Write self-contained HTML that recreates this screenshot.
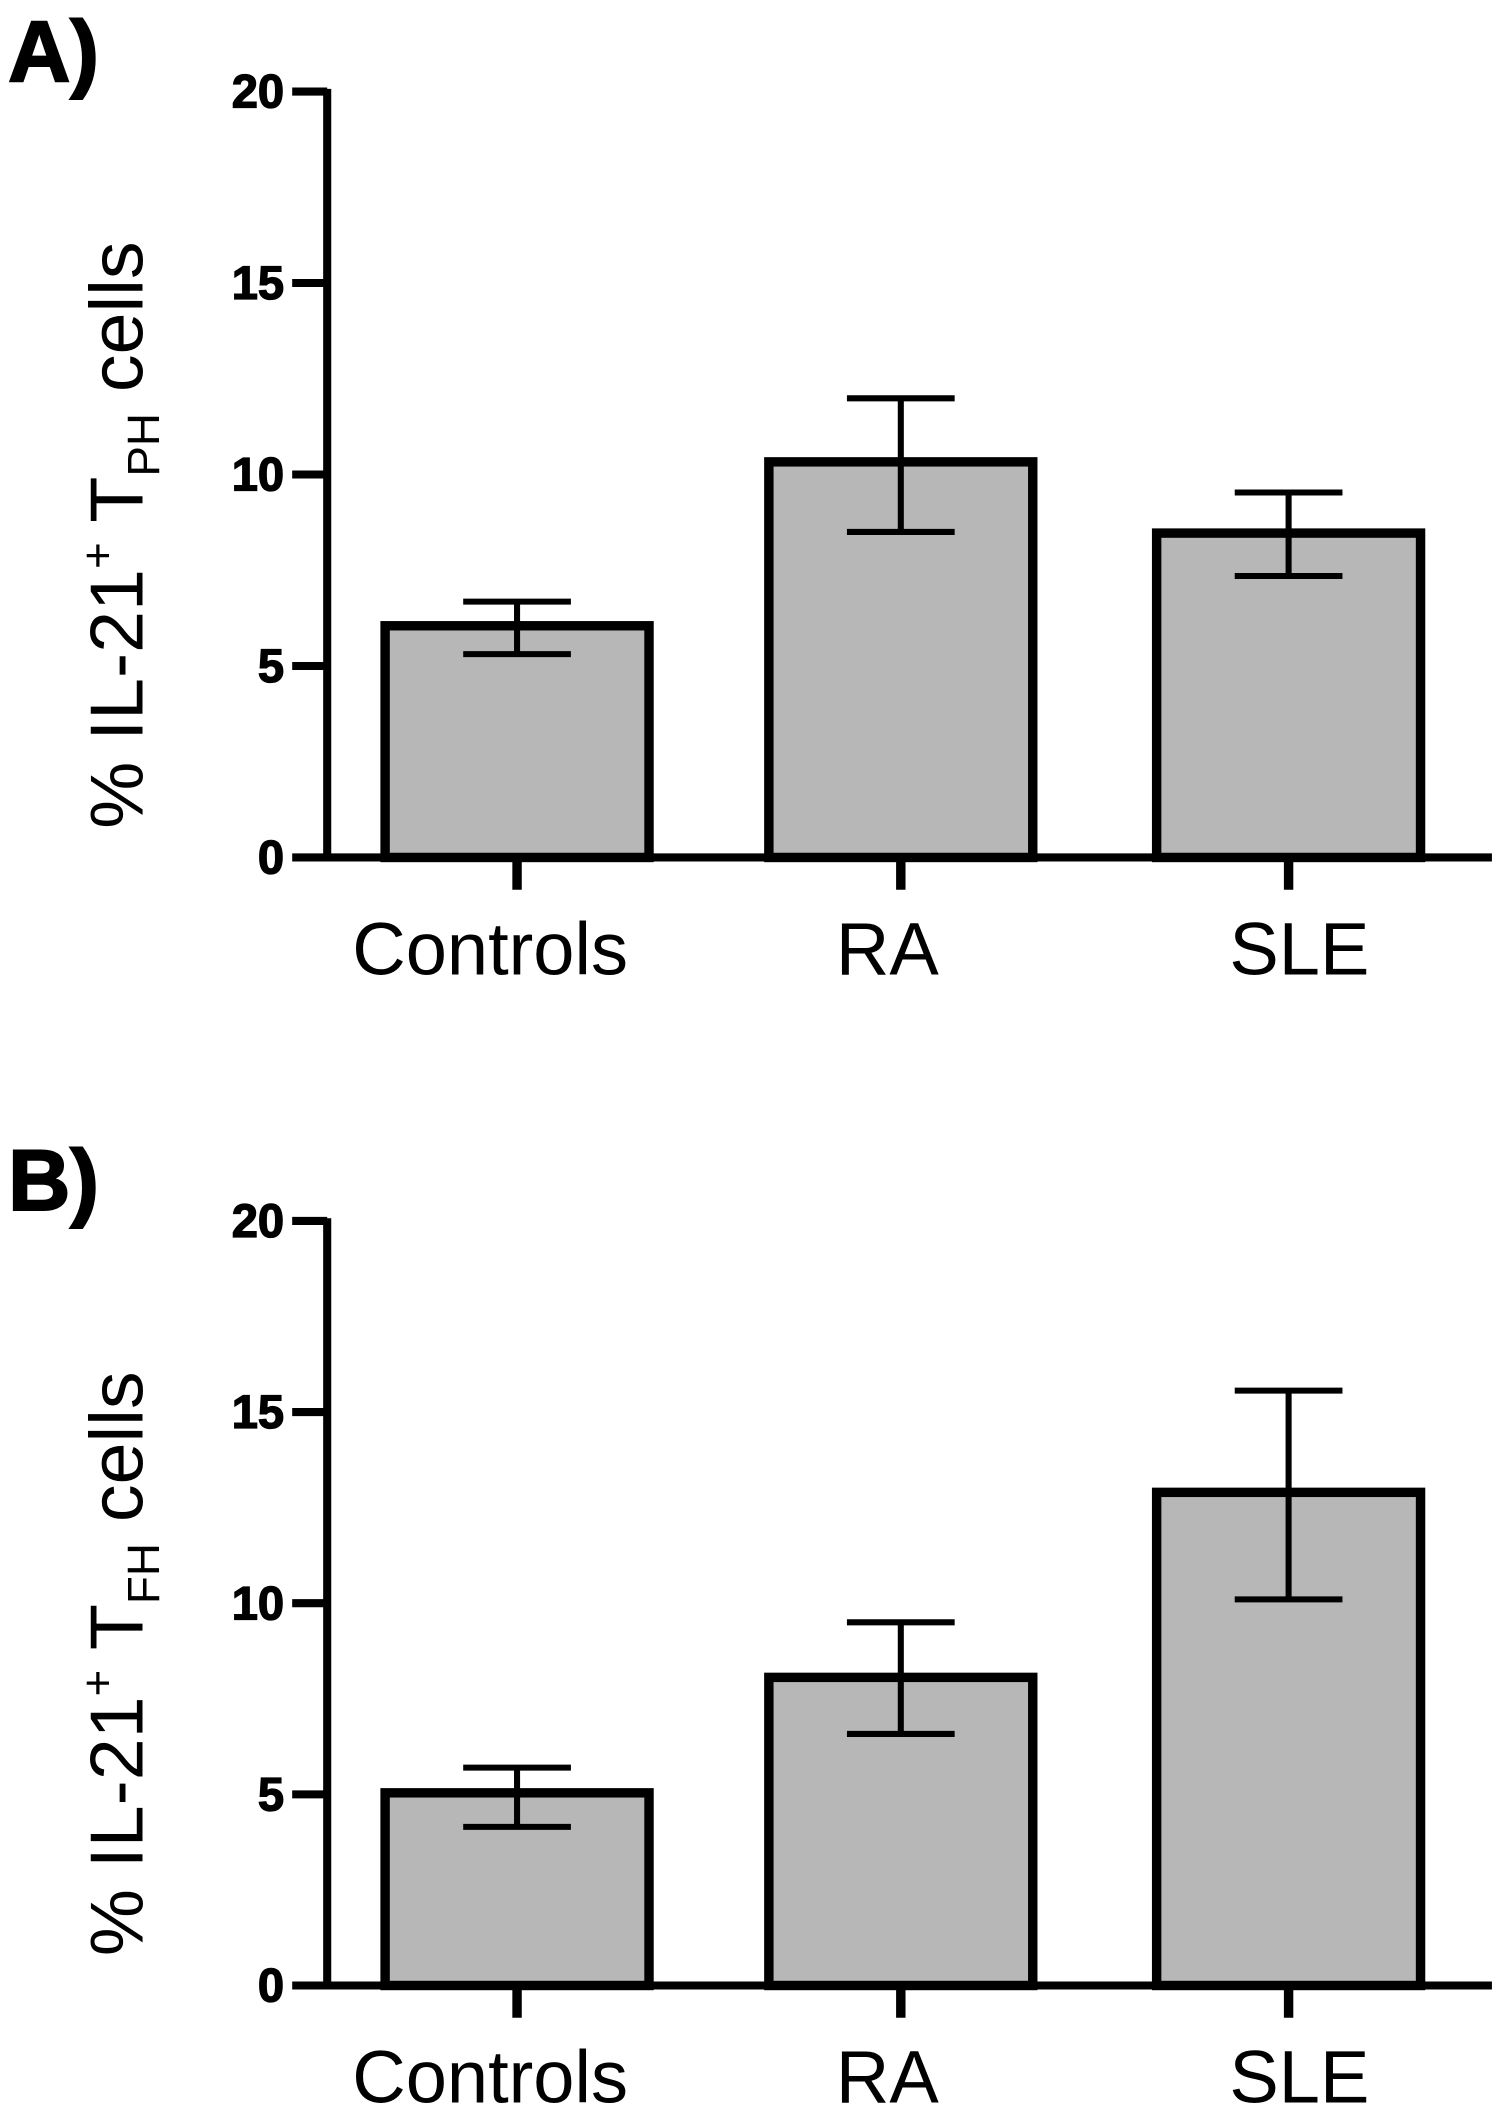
<!DOCTYPE html>
<html><head><meta charset="utf-8"><style>
html,body{margin:0;padding:0;background:#fff}
svg{display:block}
text{font-family:"Liberation Sans",Arial,sans-serif;fill:#000}
</style></head><body>
<svg id="fig" width="1500" height="2108" viewBox="0 0 1114 1566" preserveAspectRatio="none" xmlns="http://www.w3.org/2000/svg"></svg>
<script>
const categories = ["Controls","RA","SLE"];
const meansA = [6.05, 10.33, 8.47];
const upperA = [6.68, 11.99, 9.53];
const lowerA = [5.31, 8.5, 7.35];
const meansB = [5.04, 8.06, 12.9];
const upperB = [5.7, 9.5, 15.56];
const lowerB = [4.15, 6.58, 10.1];
const yTicks = [0,5,10,15,20];

const NS="http://www.w3.org/2000/svg";
const svg=document.getElementById('fig');
function mk(tag,attrs,parent){const e=document.createElementNS(NS,tag);for(const k in attrs)e.setAttribute(k,attrs[k]);(parent||svg).appendChild(e);return e;}
const labelShift=[-20,-10,8];

function panel(key,letter,y0,y20,sub,means,upper,lower){
  const g=mk('g',{});
  
  
  const yS=v=>y0-(y0-y20)*v/20;
  const centers=[384,669,957];
  const xS=i=>centers[i];
  const bw=196;
  const lt=mk('text',{x:6,y:y20-8,'font-size':64,'font-weight':'bold','stroke':'#000','stroke-width':1.5},g);
  lt.textContent=letter+')';
  
  
  means.forEach((m,i)=>{
    const r=mk('rect',{x:xS(i)-bw/2,y:yS(m),width:bw,height:y0-yS(m),fill:'#b7b7b7',stroke:'#000','stroke-width':7},g);
    
    
    const e=mk('path',{d:`M${xS(i)} ${yS(upper[i])}V${yS(lower[i])}M${xS(i)-40} ${yS(upper[i])}H${xS(i)+40}M${xS(i)-40} ${yS(lower[i])}H${xS(i)+40}`,stroke:'#000','stroke-width':4.5,fill:'none'},g);
    
    
  });
  const ya=mk('path',{d:`M243 ${y20-2}V${y0+3}`,stroke:'#000','stroke-width':6,fill:'none'},g);
  
  
  const xa=mk('path',{d:`M240 ${y0}H1108`,stroke:'#000','stroke-width':6,fill:'none'},g);
  
  
  yTicks.forEach(t=>{
    mk('path',{d:`M217 ${yS(t)}H243`,stroke:'#000','stroke-width':6},g);
    const tx=mk('text',{x:211,y:yS(t)+12,'font-size':35,'font-weight':'bold','text-anchor':'end','stroke':'#000','stroke-width':1},g);
    tx.textContent=t;
    
    
  });
  categories.forEach((c,i)=>{
    mk('path',{d:`M${xS(i)} ${y0}V${y0+24}`,stroke:'#000','stroke-width':7},g);
    const tx=mk('text',{x:xS(i)+labelShift[i],y:y0+87,'font-size':55,'text-anchor':'middle'},g);
    tx.textContent=c;
    
    
  });
  const cy=(y0+y20)/2+45;
  const tt=mk('text',{x:0,y:0,'font-size':56,'text-anchor':'middle',transform:`translate(106 ${cy}) rotate(-90)`},g);
  
  
  tt.innerHTML='% IL-21<tspan font-size="34" dy="-22">+</tspan><tspan dy="22"> T</tspan><tspan font-size="34" dy="12">'+sub+'</tspan><tspan dy="-12"> cells</tspan>';
}
panel('a','A',637,68,'PH',meansA,upperA,lowerA);
panel('b','B',1475,907,'FH',meansB,upperB,lowerB);
</script>
</body></html>
